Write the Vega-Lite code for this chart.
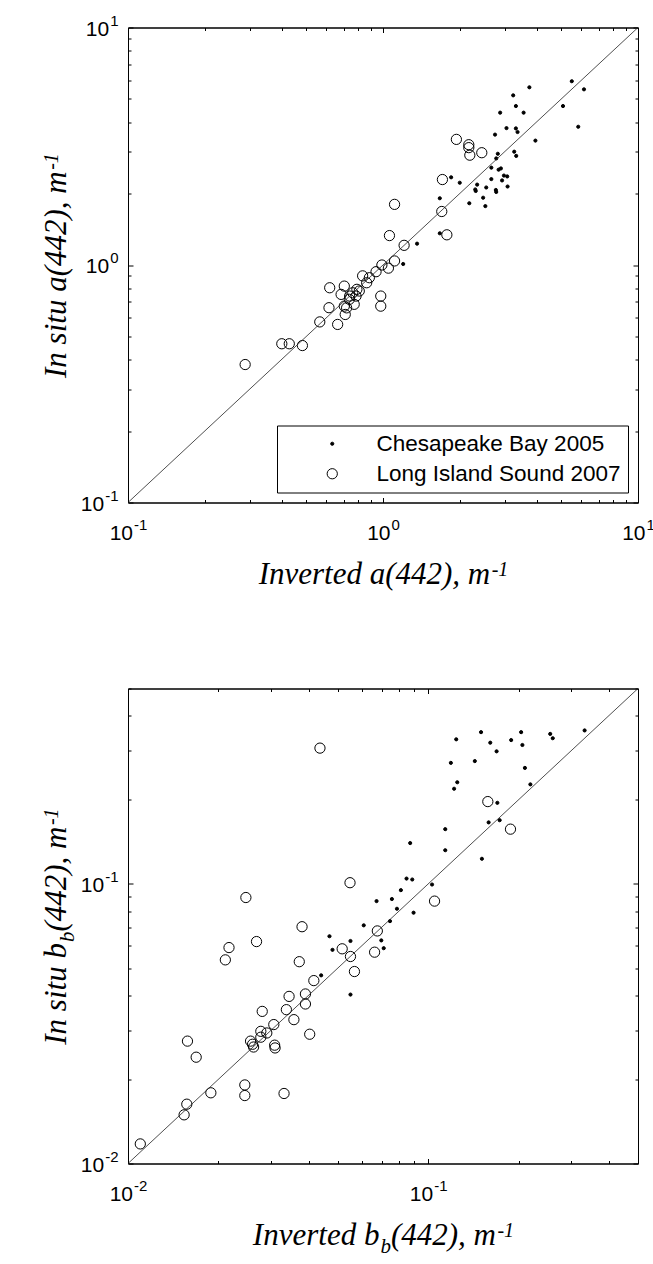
{
  "$schema": "https://vega.github.io/schema/vega-lite/v6.json",
  "background": "white",
  "padding": {"left": 39, "top": 12.5, "right": 0, "bottom": 0},
  "spacing": 88,
  "datasets": {
    "a_cb": [
      {"series": "Chesapeake Bay 2005", "inv": 5.50, "insitu": 5.94},
      {"series": "Chesapeake Bay 2005", "inv": 6.14, "insitu": 5.49},
      {"series": "Chesapeake Bay 2005", "inv": 5.08, "insitu": 4.67},
      {"series": "Chesapeake Bay 2005", "inv": 5.83, "insitu": 3.82},
      {"series": "Chesapeake Bay 2005", "inv": 3.75, "insitu": 5.60},
      {"series": "Chesapeake Bay 2005", "inv": 3.24, "insitu": 5.18},
      {"series": "Chesapeake Bay 2005", "inv": 3.32, "insitu": 4.67},
      {"series": "Chesapeake Bay 2005", "inv": 2.88, "insitu": 4.38},
      {"series": "Chesapeake Bay 2005", "inv": 3.56, "insitu": 4.38},
      {"series": "Chesapeake Bay 2005", "inv": 3.05, "insitu": 3.77},
      {"series": "Chesapeake Bay 2005", "inv": 3.32, "insitu": 3.76},
      {"series": "Chesapeake Bay 2005", "inv": 3.37, "insitu": 3.63},
      {"series": "Chesapeake Bay 2005", "inv": 2.75, "insitu": 3.54},
      {"series": "Chesapeake Bay 2005", "inv": 3.96, "insitu": 3.34},
      {"series": "Chesapeake Bay 2005", "inv": 3.27, "insitu": 3.00},
      {"series": "Chesapeake Bay 2005", "inv": 3.33, "insitu": 2.88},
      {"series": "Chesapeake Bay 2005", "inv": 2.82, "insitu": 2.94},
      {"series": "Chesapeake Bay 2005", "inv": 2.78, "insitu": 2.81},
      {"series": "Chesapeake Bay 2005", "inv": 2.66, "insitu": 2.57},
      {"series": "Chesapeake Bay 2005", "inv": 2.84, "insitu": 2.52},
      {"series": "Chesapeake Bay 2005", "inv": 2.90, "insitu": 2.55},
      {"series": "Chesapeake Bay 2005", "inv": 2.98, "insitu": 2.38},
      {"series": "Chesapeake Bay 2005", "inv": 3.07, "insitu": 2.36},
      {"series": "Chesapeake Bay 2005", "inv": 2.66, "insitu": 2.30},
      {"series": "Chesapeake Bay 2005", "inv": 2.93, "insitu": 2.27},
      {"series": "Chesapeake Bay 2005", "inv": 3.08, "insitu": 2.14},
      {"series": "Chesapeake Bay 2005", "inv": 2.34, "insitu": 2.18},
      {"series": "Chesapeake Bay 2005", "inv": 2.30, "insitu": 2.08},
      {"series": "Chesapeake Bay 2005", "inv": 2.31, "insitu": 2.05},
      {"series": "Chesapeake Bay 2005", "inv": 2.54, "insitu": 2.12},
      {"series": "Chesapeake Bay 2005", "inv": 2.77, "insitu": 2.07},
      {"series": "Chesapeake Bay 2005", "inv": 2.78, "insitu": 2.03},
      {"series": "Chesapeake Bay 2005", "inv": 2.47, "insitu": 1.92},
      {"series": "Chesapeake Bay 2005", "inv": 2.18, "insitu": 1.82},
      {"series": "Chesapeake Bay 2005", "inv": 2.52, "insitu": 1.77},
      {"series": "Chesapeake Bay 2005", "inv": 2.00, "insitu": 2.22},
      {"series": "Chesapeake Bay 2005", "inv": 1.85, "insitu": 2.34},
      {"series": "Chesapeake Bay 2005", "inv": 1.67, "insitu": 1.91},
      {"series": "Chesapeake Bay 2005", "inv": 1.67, "insitu": 1.36},
      {"series": "Chesapeake Bay 2005", "inv": 1.36, "insitu": 1.23},
      {"series": "Chesapeake Bay 2005", "inv": 1.20, "insitu": 1.01}
    ],
    "a_lis": [
      {"series": "Long Island Sound 2007", "inv": 1.94, "insitu": 3.38},
      {"series": "Long Island Sound 2007", "inv": 2.17, "insitu": 3.21},
      {"series": "Long Island Sound 2007", "inv": 2.17, "insitu": 3.12},
      {"series": "Long Island Sound 2007", "inv": 2.19, "insitu": 2.90},
      {"series": "Long Island Sound 2007", "inv": 2.44, "insitu": 2.97},
      {"series": "Long Island Sound 2007", "inv": 1.71, "insitu": 2.29},
      {"series": "Long Island Sound 2007", "inv": 1.70, "insitu": 1.68},
      {"series": "Long Island Sound 2007", "inv": 1.78, "insitu": 1.34},
      {"series": "Long Island Sound 2007", "inv": 1.11, "insitu": 1.80},
      {"series": "Long Island Sound 2007", "inv": 1.06, "insitu": 1.33},
      {"series": "Long Island Sound 2007", "inv": 1.21, "insitu": 1.21},
      {"series": "Long Island Sound 2007", "inv": 1.11, "insitu": 1.04},
      {"series": "Long Island Sound 2007", "inv": 1.05, "insitu": 0.97},
      {"series": "Long Island Sound 2007", "inv": 0.99, "insitu": 1.00},
      {"series": "Long Island Sound 2007", "inv": 0.288, "insitu": 0.381},
      {"series": "Long Island Sound 2007", "inv": 0.401, "insitu": 0.466},
      {"series": "Long Island Sound 2007", "inv": 0.429, "insitu": 0.466},
      {"series": "Long Island Sound 2007", "inv": 0.483, "insitu": 0.458},
      {"series": "Long Island Sound 2007", "inv": 0.565, "insitu": 0.576},
      {"series": "Long Island Sound 2007", "inv": 0.664, "insitu": 0.562},
      {"series": "Long Island Sound 2007", "inv": 0.614, "insitu": 0.661},
      {"series": "Long Island Sound 2007", "inv": 0.618, "insitu": 0.802},
      {"series": "Long Island Sound 2007", "inv": 0.705, "insitu": 0.815},
      {"series": "Long Island Sound 2007", "inv": 0.685, "insitu": 0.752},
      {"series": "Long Island Sound 2007", "inv": 0.711, "insitu": 0.619},
      {"series": "Long Island Sound 2007", "inv": 0.705, "insitu": 0.671},
      {"series": "Long Island Sound 2007", "inv": 0.738, "insitu": 0.717},
      {"series": "Long Island Sound 2007", "inv": 0.761, "insitu": 0.764},
      {"series": "Long Island Sound 2007", "inv": 0.784, "insitu": 0.740},
      {"series": "Long Island Sound 2007", "inv": 0.807, "insitu": 0.777},
      {"series": "Long Island Sound 2007", "inv": 0.771, "insitu": 0.683},
      {"series": "Long Island Sound 2007", "inv": 0.832, "insitu": 0.900},
      {"series": "Long Island Sound 2007", "inv": 0.863, "insitu": 0.842},
      {"series": "Long Island Sound 2007", "inv": 0.884, "insitu": 0.884},
      {"series": "Long Island Sound 2007", "inv": 0.939, "insitu": 0.937},
      {"series": "Long Island Sound 2007", "inv": 0.98, "insitu": 0.74},
      {"series": "Long Island Sound 2007", "inv": 0.98, "insitu": 0.671},
      {"series": "Long Island Sound 2007", "inv": 0.74, "insitu": 0.74},
      {"series": "Long Island Sound 2007", "inv": 0.79, "insitu": 0.79},
      {"series": "Long Island Sound 2007", "inv": 0.72, "insitu": 0.66}
    ],
    "a_line": [
      {"inv": 0.1, "insitu": 0.1},
      {"inv": 10, "insitu": 10}
    ],
    "b_cb": [
      {"series": "Chesapeake Bay 2005", "inv": 0.332, "insitu": 0.354},
      {"series": "Chesapeake Bay 2005", "inv": 0.255, "insitu": 0.344},
      {"series": "Chesapeake Bay 2005", "inv": 0.260, "insitu": 0.332},
      {"series": "Chesapeake Bay 2005", "inv": 0.204, "insitu": 0.349},
      {"series": "Chesapeake Bay 2005", "inv": 0.206, "insitu": 0.314},
      {"series": "Chesapeake Bay 2005", "inv": 0.189, "insitu": 0.327},
      {"series": "Chesapeake Bay 2005", "inv": 0.150, "insitu": 0.349},
      {"series": "Chesapeake Bay 2005", "inv": 0.161, "insitu": 0.320},
      {"series": "Chesapeake Bay 2005", "inv": 0.169, "insitu": 0.298},
      {"series": "Chesapeake Bay 2005", "inv": 0.124, "insitu": 0.329},
      {"series": "Chesapeake Bay 2005", "inv": 0.119, "insitu": 0.271},
      {"series": "Chesapeake Bay 2005", "inv": 0.143, "insitu": 0.275},
      {"series": "Chesapeake Bay 2005", "inv": 0.210, "insitu": 0.260},
      {"series": "Chesapeake Bay 2005", "inv": 0.125, "insitu": 0.231},
      {"series": "Chesapeake Bay 2005", "inv": 0.122, "insitu": 0.219},
      {"series": "Chesapeake Bay 2005", "inv": 0.219, "insitu": 0.227},
      {"series": "Chesapeake Bay 2005", "inv": 0.170, "insitu": 0.195},
      {"series": "Chesapeake Bay 2005", "inv": 0.173, "insitu": 0.169},
      {"series": "Chesapeake Bay 2005", "inv": 0.159, "insitu": 0.166},
      {"series": "Chesapeake Bay 2005", "inv": 0.114, "insitu": 0.157},
      {"series": "Chesapeake Bay 2005", "inv": 0.114, "insitu": 0.132},
      {"series": "Chesapeake Bay 2005", "inv": 0.151, "insitu": 0.123},
      {"series": "Chesapeake Bay 2005", "inv": 0.0871, "insitu": 0.140},
      {"series": "Chesapeake Bay 2005", "inv": 0.0847, "insitu": 0.1045},
      {"series": "Chesapeake Bay 2005", "inv": 0.0885, "insitu": 0.1037},
      {"series": "Chesapeake Bay 2005", "inv": 0.103, "insitu": 0.0995},
      {"series": "Chesapeake Bay 2005", "inv": 0.0811, "insitu": 0.095},
      {"series": "Chesapeake Bay 2005", "inv": 0.0757, "insitu": 0.0883},
      {"series": "Chesapeake Bay 2005", "inv": 0.0787, "insitu": 0.0815},
      {"series": "Chesapeake Bay 2005", "inv": 0.0894, "insitu": 0.0789},
      {"series": "Chesapeake Bay 2005", "inv": 0.0746, "insitu": 0.0736},
      {"series": "Chesapeake Bay 2005", "inv": 0.0698, "insitu": 0.0628},
      {"series": "Chesapeake Bay 2005", "inv": 0.0711, "insitu": 0.0589},
      {"series": "Chesapeake Bay 2005", "inv": 0.0673, "insitu": 0.0868},
      {"series": "Chesapeake Bay 2005", "inv": 0.061, "insitu": 0.0711},
      {"series": "Chesapeake Bay 2005", "inv": 0.0469, "insitu": 0.065},
      {"series": "Chesapeake Bay 2005", "inv": 0.0551, "insitu": 0.0625},
      {"series": "Chesapeake Bay 2005", "inv": 0.048, "insitu": 0.0581},
      {"series": "Chesapeake Bay 2005", "inv": 0.044, "insitu": 0.0471},
      {"series": "Chesapeake Bay 2005", "inv": 0.0551, "insitu": 0.0402}
    ],
    "b_lis": [
      {"series": "Long Island Sound 2007", "inv": 0.158, "insitu": 0.197},
      {"series": "Long Island Sound 2007", "inv": 0.188, "insitu": 0.157},
      {"series": "Long Island Sound 2007", "inv": 0.105, "insitu": 0.0868},
      {"series": "Long Island Sound 2007", "inv": 0.0677, "insitu": 0.0679},
      {"series": "Long Island Sound 2007", "inv": 0.0436, "insitu": 0.306},
      {"series": "Long Island Sound 2007", "inv": 0.0549, "insitu": 0.101},
      {"series": "Long Island Sound 2007", "inv": 0.0247, "insitu": 0.0894},
      {"series": "Long Island Sound 2007", "inv": 0.0380, "insitu": 0.0703},
      {"series": "Long Island Sound 2007", "inv": 0.0268, "insitu": 0.0622},
      {"series": "Long Island Sound 2007", "inv": 0.01099, "insitu": 0.01175},
      {"series": "Long Island Sound 2007", "inv": 0.01538, "insitu": 0.01493},
      {"series": "Long Island Sound 2007", "inv": 0.0157, "insitu": 0.0163},
      {"series": "Long Island Sound 2007", "inv": 0.01888, "insitu": 0.0179},
      {"series": "Long Island Sound 2007", "inv": 0.0245, "insitu": 0.0191},
      {"series": "Long Island Sound 2007", "inv": 0.0245, "insitu": 0.0175},
      {"series": "Long Island Sound 2007", "inv": 0.0331, "insitu": 0.0178},
      {"series": "Long Island Sound 2007", "inv": 0.01578, "insitu": 0.0274},
      {"series": "Long Island Sound 2007", "inv": 0.01687, "insitu": 0.0240},
      {"series": "Long Island Sound 2007", "inv": 0.0256, "insitu": 0.0274},
      {"series": "Long Island Sound 2007", "inv": 0.0260, "insitu": 0.0267},
      {"series": "Long Island Sound 2007", "inv": 0.0262, "insitu": 0.0261},
      {"series": "Long Island Sound 2007", "inv": 0.0277, "insitu": 0.0283},
      {"series": "Long Island Sound 2007", "inv": 0.0277, "insitu": 0.0297},
      {"series": "Long Island Sound 2007", "inv": 0.0290, "insitu": 0.0293},
      {"series": "Long Island Sound 2007", "inv": 0.0306, "insitu": 0.0314},
      {"series": "Long Island Sound 2007", "inv": 0.0308, "insitu": 0.0265},
      {"series": "Long Island Sound 2007", "inv": 0.0309, "insitu": 0.0259},
      {"series": "Long Island Sound 2007", "inv": 0.0280, "insitu": 0.0350},
      {"series": "Long Island Sound 2007", "inv": 0.0337, "insitu": 0.0355},
      {"series": "Long Island Sound 2007", "inv": 0.0344, "insitu": 0.0396},
      {"series": "Long Island Sound 2007", "inv": 0.0357, "insitu": 0.0327},
      {"series": "Long Island Sound 2007", "inv": 0.0390, "insitu": 0.0404},
      {"series": "Long Island Sound 2007", "inv": 0.0390, "insitu": 0.0372},
      {"series": "Long Island Sound 2007", "inv": 0.0403, "insitu": 0.0290},
      {"series": "Long Island Sound 2007", "inv": 0.0416, "insitu": 0.0451},
      {"series": "Long Island Sound 2007", "inv": 0.0372, "insitu": 0.0527},
      {"series": "Long Island Sound 2007", "inv": 0.0217, "insitu": 0.0592},
      {"series": "Long Island Sound 2007", "inv": 0.0211, "insitu": 0.0535},
      {"series": "Long Island Sound 2007", "inv": 0.0517, "insitu": 0.0586},
      {"series": "Long Island Sound 2007", "inv": 0.0551, "insitu": 0.0550},
      {"series": "Long Island Sound 2007", "inv": 0.0568, "insitu": 0.0486},
      {"series": "Long Island Sound 2007", "inv": 0.0663, "insitu": 0.0570}
    ],
    "b_line": [
      {"inv": 0.01, "insitu": 0.01},
      {"inv": 0.5, "insitu": 0.5}
    ]
  },
  "vconcat": [
    {
      "width": 510,
      "height": 475,
      "layer": [
        {
          "data": {"name": "a_cb"},
          "mark": {"type": "point", "shape": "circle", "strokeWidth": 1, "opacity": 1},
          "encoding": {
            "x": {
              "field": "inv", "type": "quantitative",
              "scale": {"type": "log", "domain": [0.1, 10], "nice": false},
              "axis": {
                "orient": "bottom",
                "values": [0.1, 0.2, 0.3, 0.4, 0.5, 0.6, 0.7, 0.8, 0.9, 1, 2, 3, 4, 5, 6, 7, 8, 9, 10],
                "labelExpr": "datum.value == 0.1 || datum.value == 1 || datum.value == 10 ? '10' : ''",
                "labelAlign": "right",
                "labelBaseline": "alphabetic",
                "labelOffset": {"condition": {"test": "datum.value == 1 || datum.value == 10", "value": 7.0}, "value": 4.5},
                "tickSize": {"condition": {"test": "datum.value == 0.1 || datum.value == 1 || datum.value == 10", "value": -5}, "value": -3},
                "labelPadding": 42,
                "title": "Inverted a(442), m",
                "titleX": 361.7, "titleY": 81, "titleAlign": "right", "titleBaseline": "alphabetic", "titleAngle": 0
              }
            },
            "y": {
              "field": "insitu", "type": "quantitative",
              "scale": {"type": "log", "domain": [0.1, 10], "nice": false},
              "axis": {
                "orient": "left",
                "values": [0.1, 0.2, 0.3, 0.4, 0.5, 0.6, 0.7, 0.8, 0.9, 1, 2, 3, 4, 5, 6, 7, 8, 9, 10],
                "labelExpr": "datum.value == 0.1 || datum.value == 1 || datum.value == 10 ? '10' : ''",
                "labelAlign": "right",
                "labelBaseline": "alphabetic",
                "labelOffset": 7.5,
                "labelPadding": {"condition": {"test": "datum.value == 1 || datum.value == 10", "value": 24.3}, "value": 29.3},
                "tickSize": {"condition": {"test": "datum.value == 0.1 || datum.value == 1 || datum.value == 10", "value": -5}, "value": -3},
                "title": "In situ a(442), m",
                "titleX": -63, "titleY": 143.3, "titleAlign": "right", "titleBaseline": "alphabetic", "titleAngle": -90
              }
            },
            "fill": {
              "field": "series", "type": "nominal",
              "scale": {"domain": ["Chesapeake Bay 2005", "Long Island Sound 2007"], "range": ["black", "transparent"]},
              "legend": {"title": null, "orient": "bottom-right", "offset": 10, "strokeColor": "black", "fillColor": "white", "padding": 7, "labelFont": "Liberation Sans", "labelFontSize": 22.5, "labelColor": "black", "labelLimit": 400, "symbolType": "circle", "symbolStrokeColor": "black", "symbolStrokeWidth": 1, "symbolOffset": 37, "labelOffset": 33, "rowPadding": 7, "cornerRadius": 0}
            },
            "stroke": {
              "field": "series", "type": "nominal",
              "scale": {"domain": ["Chesapeake Bay 2005", "Long Island Sound 2007"], "range": ["black", "black"]},
              "legend": {"title": null, "orient": "bottom-right", "offset": 10, "strokeColor": "black", "fillColor": "white", "padding": 7, "labelFont": "Liberation Sans", "labelFontSize": 22.5, "labelColor": "black", "labelLimit": 400, "symbolType": "circle", "symbolStrokeColor": "black", "symbolStrokeWidth": 1, "symbolOffset": 37, "labelOffset": 33, "rowPadding": 7, "cornerRadius": 0}
            },
            "size": {
              "field": "series", "type": "nominal",
              "scale": {"domain": ["Chesapeake Bay 2005", "Long Island Sound 2007"], "range": [10, 105]},
              "legend": {"title": null, "orient": "bottom-right", "offset": 10, "strokeColor": "black", "fillColor": "white", "padding": 7, "labelFont": "Liberation Sans", "labelFontSize": 22.5, "labelColor": "black", "labelLimit": 400, "symbolType": "circle", "symbolStrokeColor": "black", "symbolStrokeWidth": 1, "symbolOffset": 37, "labelOffset": 33, "rowPadding": 7, "cornerRadius": 0}
            }
          }
        },
        {
          "data": {"name": "a_lis"},
          "mark": {"type": "point", "shape": "circle", "strokeWidth": 1, "opacity": 1},
          "encoding": {
            "x": {
              "field": "inv", "type": "quantitative",
              "scale": {"type": "log", "domain": [0.1, 10], "nice": false},
              "axis": {
                "orient": "top",
                "values": [0.1, 0.2, 0.3, 0.4, 0.5, 0.6, 0.7, 0.8, 0.9, 1, 2, 3, 4, 5, 6, 7, 8, 9, 10],
                "labels": false,
                "tickSize": {"condition": {"test": "datum.value == 0.1 || datum.value == 1 || datum.value == 10", "value": -5}, "value": -3},
                "title": "-1",
                "titleFontSize": 20,
                "titleX": 363.2, "titleY": 548, "titleAlign": "left", "titleBaseline": "alphabetic", "titleAngle": 0
              }
            },
            "y": {
              "field": "insitu", "type": "quantitative",
              "scale": {"type": "log", "domain": [0.1, 10], "nice": false},
              "axis": {
                "orient": "right",
                "values": [0.1, 0.2, 0.3, 0.4, 0.5, 0.6, 0.7, 0.8, 0.9, 1, 2, 3, 4, 5, 6, 7, 8, 9, 10],
                "labels": false,
                "tickSize": {"condition": {"test": "datum.value == 0.1 || datum.value == 1 || datum.value == 10", "value": -5}, "value": -3},
                "title": "-1",
                "titleFontSize": 20,
                "titleX": -581, "titleY": 141.8, "titleAlign": "left", "titleBaseline": "alphabetic", "titleAngle": -90
              }
            },
            "fill": {
              "field": "series", "type": "nominal",
              "scale": {"domain": ["Chesapeake Bay 2005", "Long Island Sound 2007"], "range": ["black", "transparent"]},
              "legend": {"title": null, "orient": "bottom-right", "offset": 10, "strokeColor": "black", "fillColor": "white", "padding": 7, "labelFont": "Liberation Sans", "labelFontSize": 22.5, "labelColor": "black", "labelLimit": 400, "symbolType": "circle", "symbolStrokeColor": "black", "symbolStrokeWidth": 1, "symbolOffset": 37, "labelOffset": 33, "rowPadding": 7, "cornerRadius": 0}
            },
            "stroke": {
              "field": "series", "type": "nominal",
              "scale": {"domain": ["Chesapeake Bay 2005", "Long Island Sound 2007"], "range": ["black", "black"]},
              "legend": {"title": null, "orient": "bottom-right", "offset": 10, "strokeColor": "black", "fillColor": "white", "padding": 7, "labelFont": "Liberation Sans", "labelFontSize": 22.5, "labelColor": "black", "labelLimit": 400, "symbolType": "circle", "symbolStrokeColor": "black", "symbolStrokeWidth": 1, "symbolOffset": 37, "labelOffset": 33, "rowPadding": 7, "cornerRadius": 0}
            },
            "size": {
              "field": "series", "type": "nominal",
              "scale": {"domain": ["Chesapeake Bay 2005", "Long Island Sound 2007"], "range": [10, 105]},
              "legend": {"title": null, "orient": "bottom-right", "offset": 10, "strokeColor": "black", "fillColor": "white", "padding": 7, "labelFont": "Liberation Sans", "labelFontSize": 22.5, "labelColor": "black", "labelLimit": 400, "symbolType": "circle", "symbolStrokeColor": "black", "symbolStrokeWidth": 1, "symbolOffset": 37, "labelOffset": 33, "rowPadding": 7, "cornerRadius": 0}
            }
          }
        },
        {
          "data": {"name": "a_line"},
          "mark": {"type": "line", "color": "#222222", "strokeWidth": 0.8},
          "encoding": {
            "x": {
              "field": "inv", "type": "quantitative",
              "scale": {"type": "log", "domain": [0.1, 10], "nice": false},
              "axis": {
                "orient": "bottom", "values": [0.1, 1, 10],
                "ticks": false, "tickSize": 0, "domain": false, "title": null,
                "labelExpr": "datum.value == 0.1 ? '-1' : datum.value == 1 ? '0' : datum.value == 10 ? '1' : ''",
                "labelFontSize": 15,
                "labelAlign": "left",
                "labelBaseline": "alphabetic",
                "labelOffset": {"condition": {"test": "datum.value == 1 || datum.value == 10", "value": 8.0}, "value": 5.5},
                "labelPadding": 27
              }
            },
            "y": {
              "field": "insitu", "type": "quantitative",
              "scale": {"type": "log", "domain": [0.1, 10], "nice": false},
              "axis": {
                "orient": "left", "values": [0.1, 1, 10],
                "ticks": false, "tickSize": 0, "domain": false, "title": null,
                "labelExpr": "datum.value == 0.1 ? '-1' : datum.value == 1 ? '0' : datum.value == 10 ? '1' : ''",
                "labelFontSize": 15,
                "labelAlign": "right",
                "labelBaseline": "alphabetic",
                "labelOffset": -2.5,
                "labelPadding": 10
              }
            }
          }
        }
      ],
      "resolve": {"axis": {"x": "independent", "y": "independent"}}
    },
    {
      "width": 510,
      "height": 475,
      "layer": [
        {
          "data": {"name": "b_cb"},
          "mark": {"type": "point", "shape": "circle", "filled": true, "color": "black", "stroke": "black", "strokeWidth": 1, "size": 10, "opacity": 1},
          "encoding": {
            "x": {
              "field": "inv", "type": "quantitative",
              "scale": {"type": "log", "domain": [0.01, 0.5], "nice": false},
              "axis": {
                "orient": "bottom",
                "values": [0.01, 0.02, 0.03, 0.04, 0.05, 0.06, 0.07, 0.08, 0.09, 0.1, 0.2, 0.3, 0.4, 0.5],
                "labelExpr": "datum.value == 0.01 || datum.value == 0.1 ? '10' : ''",
                "labelAlign": "right",
                "labelBaseline": "alphabetic",
                "labelOffset": 4.5,
                "tickSize": {"condition": {"test": "datum.value == 0.01 || datum.value == 0.1", "value": -5}, "value": -3},
                "labelPadding": 42,
                "title": "Inverted b",
                "titleX": 250.9, "titleY": 81, "titleAlign": "right", "titleBaseline": "alphabetic", "titleAngle": 0
              }
            },
            "y": {
              "field": "insitu", "type": "quantitative",
              "scale": {"type": "log", "domain": [0.01, 0.5], "nice": false},
              "axis": {
                "orient": "left",
                "values": [0.01, 0.02, 0.03, 0.04, 0.05, 0.06, 0.07, 0.08, 0.09, 0.1, 0.2, 0.3, 0.4, 0.5],
                "labelExpr": "datum.value == 0.01 || datum.value == 0.1 ? '10' : ''",
                "labelAlign": "right",
                "labelBaseline": "alphabetic",
                "labelOffset": 7.5,
                "labelPadding": 29.3,
                "tickSize": {"condition": {"test": "datum.value == 0.01 || datum.value == 0.1", "value": -5}, "value": -3},
                "title": "In situ b",
                "titleX": -63, "titleY": 254.1, "titleAlign": "right", "titleBaseline": "alphabetic", "titleAngle": -90
              }
            }
          }
        },
        {
          "data": {"name": "b_lis"},
          "mark": {"type": "point", "shape": "circle", "filled": false, "fill": "transparent", "stroke": "black", "strokeWidth": 1, "size": 105, "opacity": 1},
          "encoding": {
            "x": {
              "field": "inv", "type": "quantitative",
              "scale": {"type": "log", "domain": [0.01, 0.5], "nice": false},
              "axis": {
                "orient": "top",
                "values": [0.01, 0.02, 0.03, 0.04, 0.05, 0.06, 0.07, 0.08, 0.09, 0.1, 0.2, 0.3, 0.4, 0.5],
                "labels": false,
                "tickSize": {"condition": {"test": "datum.value == 0.01 || datum.value == 0.1", "value": -5}, "value": -3},
                "title": "b",
                "titleFontSize": 21,
                "titleX": 251.9, "titleY": 564, "titleAlign": "left", "titleBaseline": "alphabetic", "titleAngle": 0
              }
            },
            "y": {
              "field": "insitu", "type": "quantitative",
              "scale": {"type": "log", "domain": [0.01, 0.5], "nice": false},
              "axis": {
                "orient": "right",
                "values": [0.01, 0.02, 0.03, 0.04, 0.05, 0.06, 0.07, 0.08, 0.09, 0.1, 0.2, 0.3, 0.4, 0.5],
                "labels": false,
                "tickSize": {"condition": {"test": "datum.value == 0.01 || datum.value == 0.1", "value": -5}, "value": -3},
                "title": "b",
                "titleFontSize": 21,
                "titleX": -565, "titleY": 253.1, "titleAlign": "left", "titleBaseline": "alphabetic", "titleAngle": -90
              }
            }
          }
        },
        {
          "data": {"name": "b_line"},
          "mark": {"type": "line", "color": "#222222", "strokeWidth": 0.8},
          "encoding": {
            "x": {
              "field": "inv", "type": "quantitative",
              "scale": {"type": "log", "domain": [0.01, 0.5], "nice": false},
              "axis": {
                "orient": "bottom", "values": [0.01, 0.1],
                "ticks": false, "tickSize": 0, "domain": false,
                "labelExpr": "datum.value == 0.01 ? '-2' : datum.value == 0.1 ? '-1' : ''",
                "labelFontSize": 15,
                "labelAlign": "left",
                "labelBaseline": "alphabetic",
                "labelOffset": 5.5,
                "labelPadding": 27,
                "title": "(442), m",
                "titleX": 262.4, "titleY": 81, "titleAlign": "left", "titleBaseline": "alphabetic", "titleAngle": 0
              }
            },
            "y": {
              "field": "insitu", "type": "quantitative",
              "scale": {"type": "log", "domain": [0.01, 0.5], "nice": false},
              "axis": {
                "orient": "left", "values": [0.01, 0.1],
                "ticks": false, "tickSize": 0, "domain": false,
                "labelExpr": "datum.value == 0.01 ? '-2' : datum.value == 0.1 ? '-1' : ''",
                "labelFontSize": 15,
                "labelAlign": "right",
                "labelBaseline": "alphabetic",
                "labelOffset": -2.5,
                "labelPadding": 10,
                "title": "(442), m",
                "titleX": -63, "titleY": 242.6, "titleAlign": "left", "titleBaseline": "alphabetic", "titleAngle": -90
              }
            }
          }
        },
        {
          "data": {"name": "b_line"},
          "mark": {"type": "line", "color": "#222222", "strokeWidth": 0.8, "strokeOpacity": 0},
          "encoding": {
            "x": {
              "field": "inv", "type": "quantitative",
              "scale": {"type": "log", "domain": [0.01, 0.5], "nice": false},
              "axis": {
                "orient": "bottom", "labels": false, "ticks": false, "domain": false,
                "title": "-1",
                "titleFontSize": 20,
                "titleX": 368.9, "titleY": 73, "titleAlign": "left", "titleBaseline": "alphabetic", "titleAngle": 0
              }
            },
            "y": {
              "field": "insitu", "type": "quantitative",
              "scale": {"type": "log", "domain": [0.01, 0.5], "nice": false},
              "axis": {
                "orient": "left", "labels": false, "ticks": false, "domain": false,
                "title": "-1",
                "titleFontSize": 20,
                "titleX": -71, "titleY": 136.1, "titleAlign": "left", "titleBaseline": "alphabetic", "titleAngle": -90
              }
            }
          }
        }
      ],
      "resolve": {"axis": {"x": "independent", "y": "independent"}}
    }
  ],
  "resolve": {
    "scale": {"fill": "independent", "size": "independent", "stroke": "independent"},
    "legend": {"fill": "independent", "size": "independent", "stroke": "independent"}
  },
  "config": {
    "view": {"stroke": "black", "strokeWidth": 1},
    "axis": {
      "grid": false,
      "domainColor": "black",
      "domainWidth": 1,
      "tickColor": "black",
      "tickWidth": 1,
      "labelColor": "black",
      "labelFont": "Liberation Sans",
      "labelFontSize": 21,
      "labelOverlap": false,
      "labelFlush": false,
      "titleColor": "black",
      "titleFont": "Liberation Serif",
      "titleFontStyle": "italic",
      "titleFontWeight": "normal",
      "titleFontSize": 31
    }
  }
}
